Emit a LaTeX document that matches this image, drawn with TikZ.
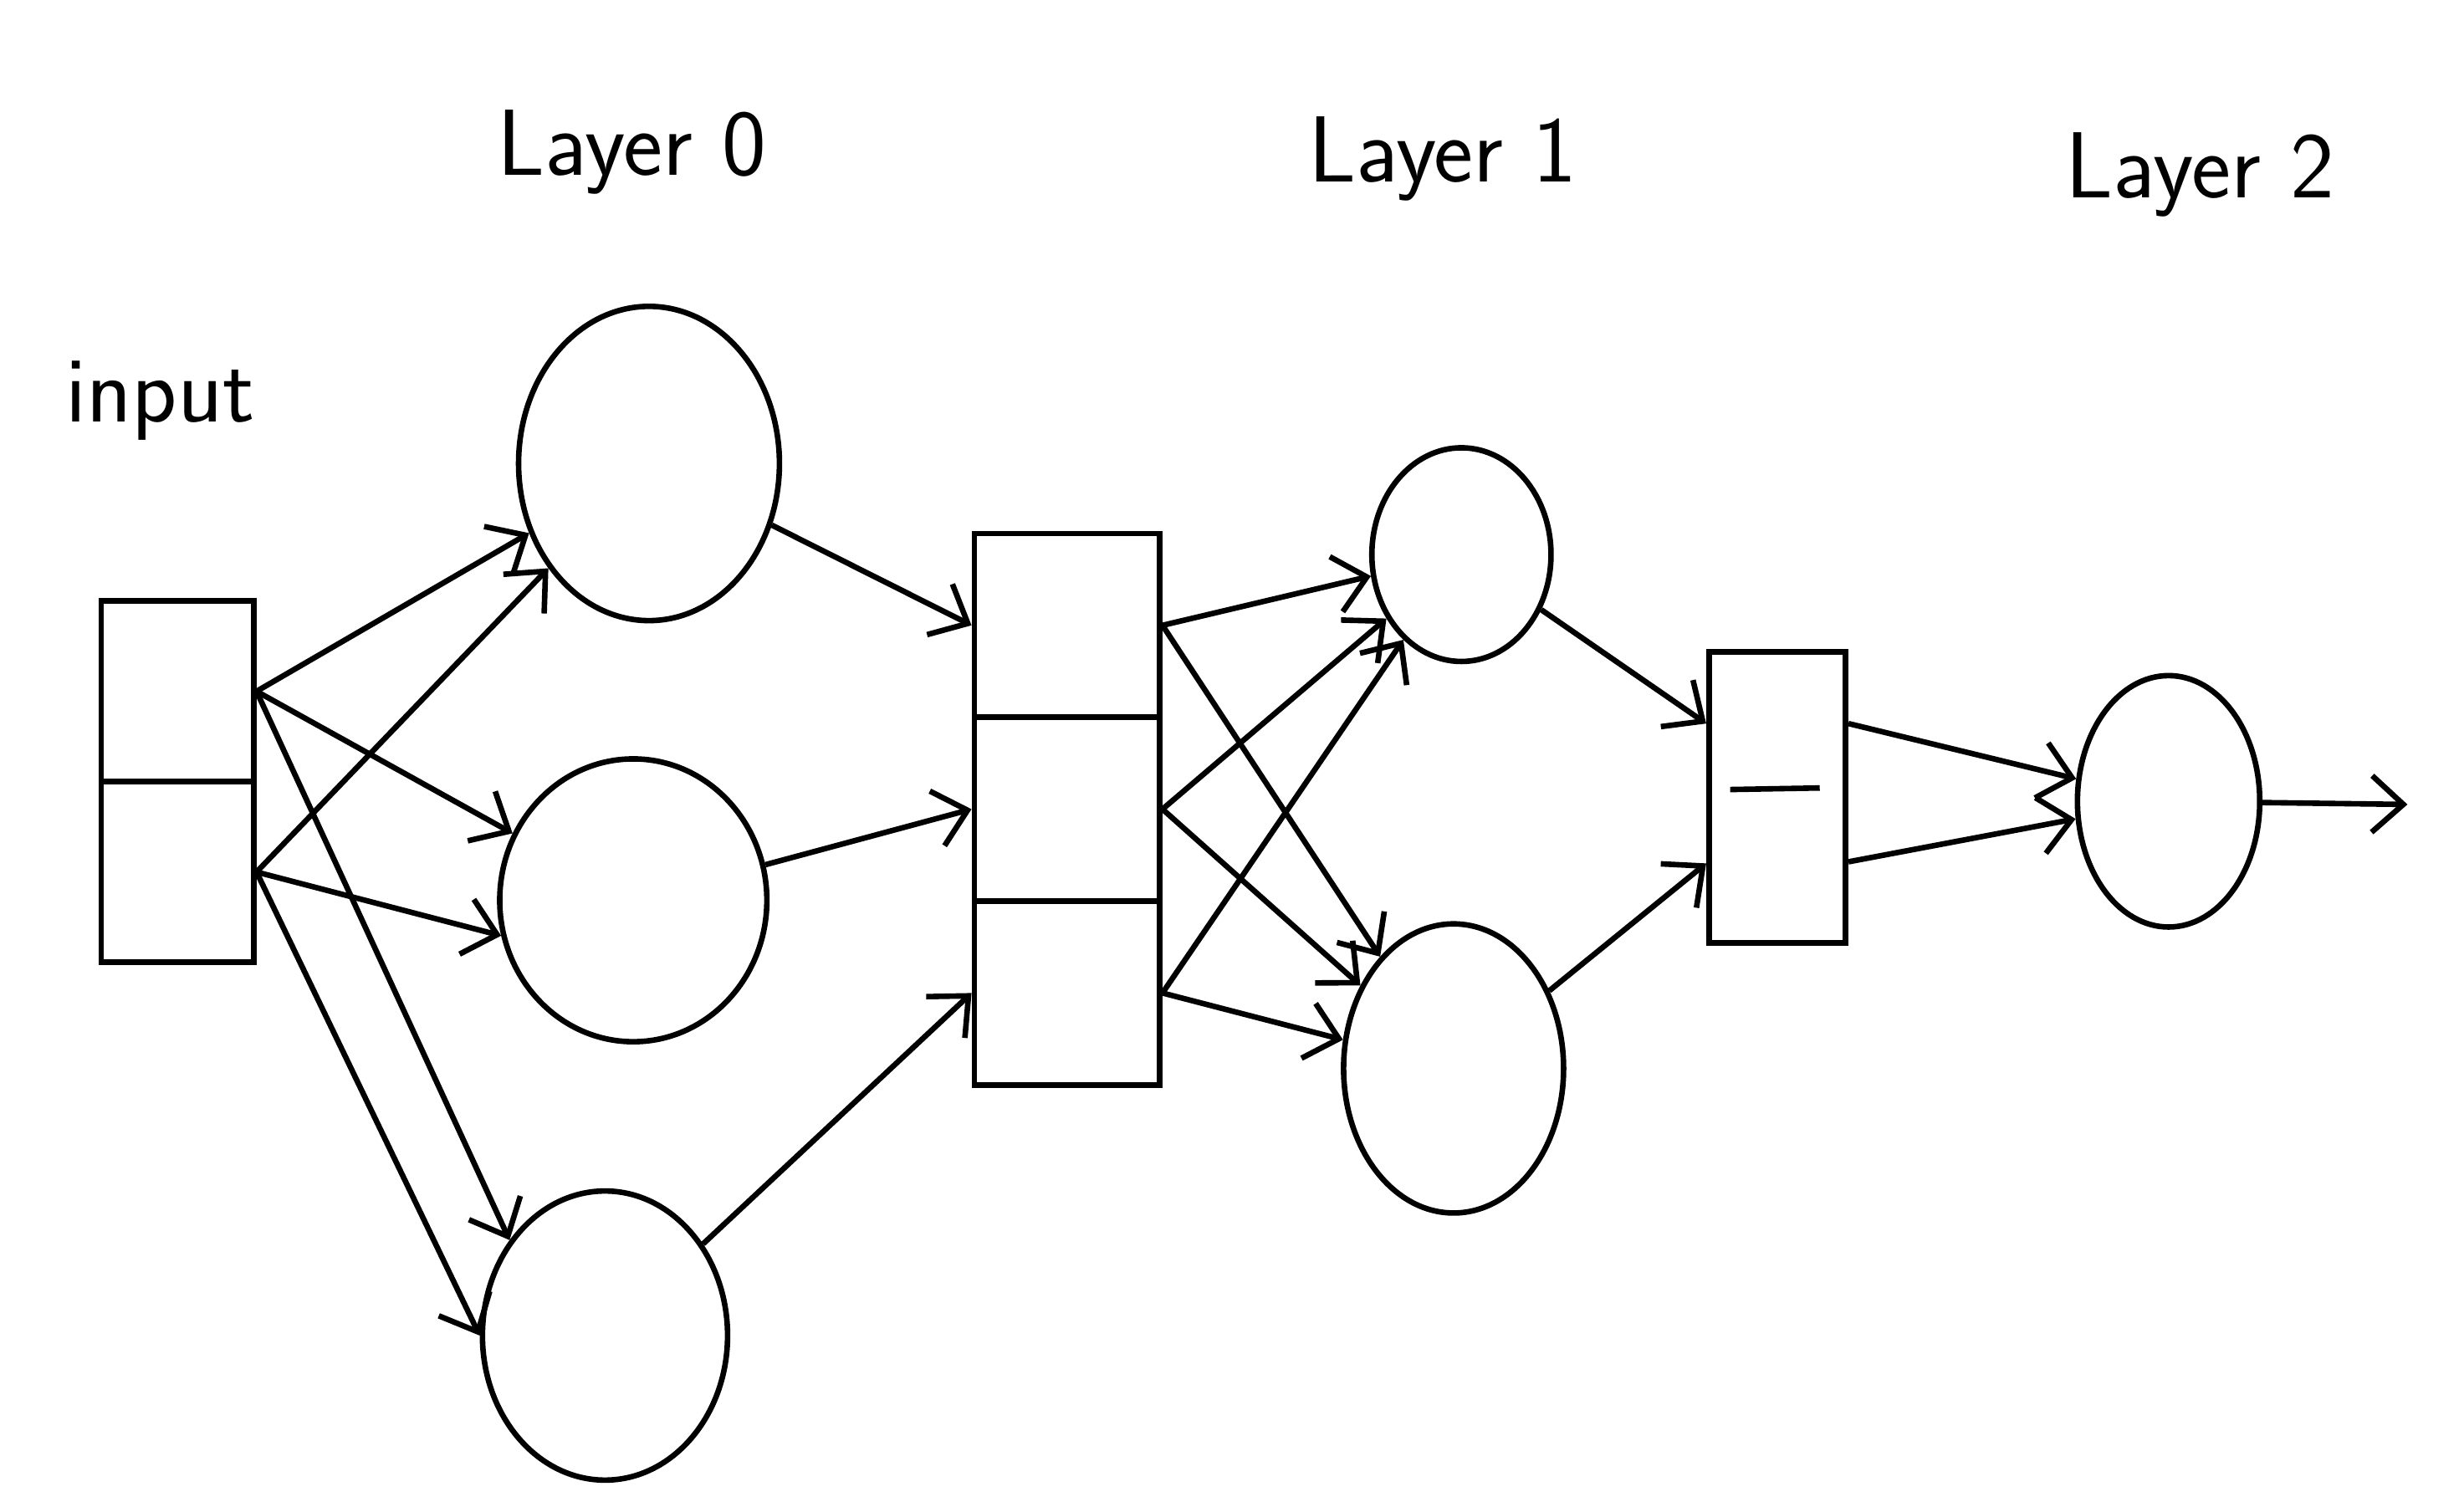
\documentclass[tikz,border=0pt]{standalone}
\usetikzlibrary{shapes.geometric,arrows.meta}

\tikzset{
  cell/.style={draw, rectangle, line width=1pt, inner sep=0pt},
  unit/.style={draw, ellipse, line width=1pt, inner sep=0pt},
  wire/.style={line width=1pt, -{Straight Barb[length=2mm,width=3.6mm]}},
  layerlabel/.style={font=\sffamily\fontsize{17}{20}\selectfont}
}

\begin{document}
\begin{tikzpicture}
            \useasboundingbox (0,0) rectangle (15.68,9.59);

            % labels
            \node[layerlabel] (lab0) at (4.02,8.62) {Layer 0};
            \node[layerlabel] (lab1) at (9.18,8.58) {Layer 1};
            \node[layerlabel] (lab2) at (14.00,8.48) {Layer 2};
            \node[layerlabel] (labin) at (1.02,7.04) {input};

            % input
            \node[cell, minimum width=0.97cm, minimum height=1.15cm] (in0) at (1.13,5.19) {};
            \node[cell, minimum width=0.97cm, minimum height=1.15cm] (in1) at (1.13,4.04) {};

            % layer 0
            \node[unit, minimum width=1.66cm, minimum height=2.00cm] (a0) at (4.13,6.64) {};
            \node[unit, minimum width=1.70cm, minimum height=1.80cm] (a1) at (4.03,3.86) {};
            \node[unit, minimum width=1.56cm, minimum height=1.84cm] (a2) at (3.85,1.09) {};

            \node[cell, minimum width=1.18cm, minimum height=1.17cm] (h0) at (6.79,5.61) {};
            \node[cell, minimum width=1.18cm, minimum height=1.17cm] (h1) at (6.79,4.44) {};
            \node[cell, minimum width=1.18cm, minimum height=1.17cm] (h2) at (6.79,3.27) {};

            % layer 1
            \node[unit, minimum width=1.14cm, minimum height=1.36cm] (b0) at (9.30,6.06) {};
            \node[unit, minimum width=1.40cm, minimum height=1.84cm] (b1) at (9.25,2.79) {};

            \node[cell, minimum width=0.87cm, minimum height=1.85cm] (g) at (11.31,4.515) {};
            \draw[line width=1pt] ([xshift=-3mm,yshift=0.5mm]g.center) -- ([xshift=2.7mm,yshift=0.6mm]g.center);

            % layer 2
            \node[unit, minimum width=1.16cm, minimum height=1.60cm] (c0) at (13.80,4.49) {};
            \coordinate (out) at (15.32,4.47);

            \draw[wire] (in0.east) -- (a0);
            \draw[wire] (in0.east) -- (a1);
            \draw[wire] (in0.east) -- (a2.135);
            \draw[wire] (in1.east) -- (a0);
            \draw[wire] (in1.east) -- (a1.195);
            \draw[wire] (in1.east) -- (a2.west);

            \draw[wire] (a0) -- (h0.west);
            \draw[wire] (a1) -- (h1.west);
            \draw[wire] (a2) -- (h2.west);

            \draw[wire] (h0.east) -- (b0);
            \draw[wire] (h1.east) -- (b0);
            \draw[wire] (h2.east) -- (b0);
            \draw[wire] (h0.east) -- (b1);
            \draw[wire] (h1.east) -- (b1);
            \draw[wire] (h2.east) -- (b1);

            \draw[wire] (b0) -- ([yshift=4.7mm]g.west);
            \draw[wire] (b1) -- ([yshift=-4.2mm]g.west);

            \draw[wire] ([yshift=4.7mm]g.east) -- (c0);
            \draw[wire] ([yshift=-4.1mm]g.east) -- (c0);

            \draw[wire] (c0) -- (out);
        \end{tikzpicture}
\end{document}
